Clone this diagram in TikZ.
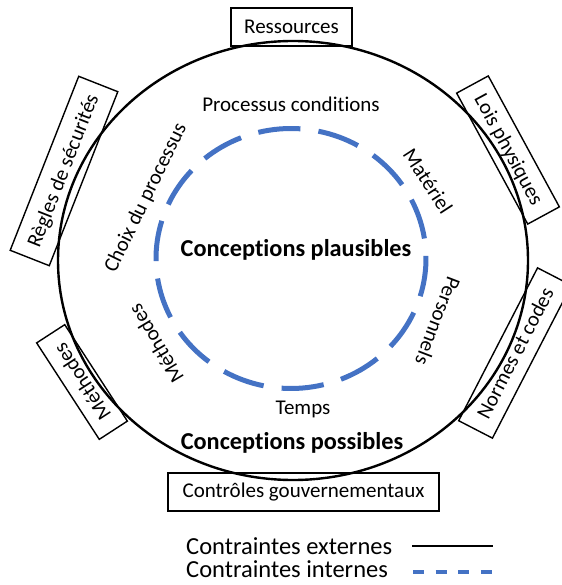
\documentclass[tikz,border=0pt]{standalone}
\usepackage{fontspec}
\setmainfont{Carlito}[Ligatures={NoCommon}]
\definecolor{innerblue}{HTML}{4472C4}
\begin{document}
\begin{tikzpicture}[x=1pt,y=-1pt,
  lbl/.style={font=\fontsize{21}{25}\selectfont, inner sep=0pt},
  bigbold/.style={font=\fontsize{24.3}{28}\selectfont\bfseries, inner sep=0pt},
  legend/.style={font=\fontsize{24.5}{28}\selectfont, inner sep=0pt, anchor=west},
  extbox/.style={draw, line width=1.4pt, font=\fontsize{21}{25}\selectfont, inner sep=0pt},
  extline/.style={line width=2.4pt},
  intline/.style={line width=5pt, color=innerblue}]
\useasboundingbox (0,0) rectangle (561,585);

% external constraints: the outer boundary
\draw[extline] (293,260.5) ellipse [x radius=235, y radius=219.5];

% internal constraints: fourteen dashes round the inner boundary
\coordinate (ic) at (291,258.5);
\foreach \k in {0,...,13}{
  \draw[intline] (ic) ++({256+\k*25.714}:135 and 130)
    arc[start angle={256+\k*25.714}, delta angle=18, x radius=135, y radius=130];
}

% centre labels
\node[bigbold] (plaus) at (296,250) {Conceptions plausibles};
\node[bigbold] (poss) at (292,443) {Conceptions possibles};

% internal constraint labels
\node[lbl] (proc) at (291,104) {Processus conditions};
\node[lbl, rotate=64] (choix) at (146,198) {Choix du processus};
\node[lbl, rotate=-57] (mat) at (428,181) {Matériel};
\node[lbl, rotate=-111] (pers) at (438,321) {Personnels};
\node[lbl, rotate=121] (methi) at (156,344) {Méthodes};
\node[lbl] (temps) at (303,409) {Temps};

% external constraint boxes
\node[extbox, minimum width=121, minimum height=38] (res) at (291.5,27) {Ressources};
\node[extbox, minimum width=149, minimum height=36, rotate=-61.5] (lois) at (508,150) {Lois physiques};
\node[extbox, minimum width=187, minimum height=42, rotate=68.5] (regles) at (64,171) {Règles de sécurités};
\node[extbox, minimum width=115, minimum height=33.5, rotate=123] (metho) at (82,382) {Méthodes};
\node[extbox, minimum width=172, minimum height=38, rotate=62.7] (normes) at (515,353) {Normes et codes};
\node[extbox, minimum width=271, minimum height=38] (ctrl) at (303.5,492) {Contrôles gouvernementaux};

% legend
\node[legend] (lgext) at (186,546) {Contraintes externes};
\node[legend] (lgint) at (186,569) {Contraintes internes};
\coordinate (extA) at (412,546);
\coordinate (extB) at (493,546);
\coordinate (intA) at (413,572);
\coordinate (intB) at (493,572);
\draw[line width=1.6pt] (extA) -- (extB);
\draw[line width=4pt, color=innerblue, dash pattern=on 11 off 11.6] (intA) -- (intB);
\end{tikzpicture}
\end{document}
